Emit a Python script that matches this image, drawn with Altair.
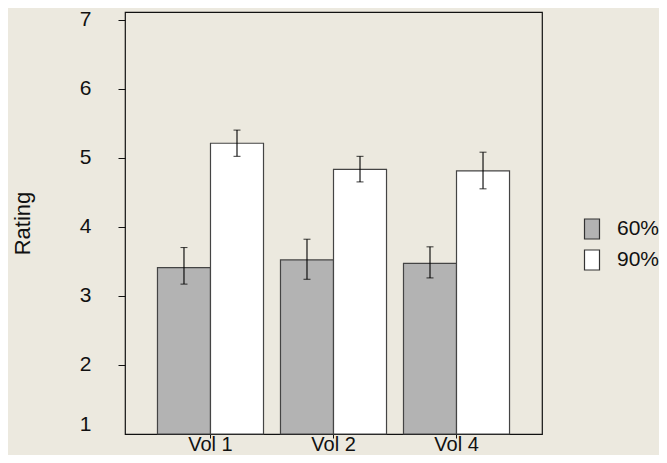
import altair as alt
import pandas as pd

vols = ["Vol 1", "Vol 2", "Vol 4"]
conds = ["60%", "90%"]
mean_60 = [3.41, 3.52, 3.47]
mean_90 = [5.21, 4.83, 4.81]
low_60 = [3.17, 3.24, 3.26]
high_60 = [3.70, 3.82, 3.71]
low_90 = [5.02, 4.65, 4.55]
high_90 = [5.40, 5.02, 5.08]
y_ticks = [1, 2, 3, 4, 5, 6, 7]

rows = []
for i, v in enumerate(vols):
    rows.append(dict(vol=v, cond=conds[0], mean=mean_60[i], lo=low_60[i], hi=high_60[i]))
    rows.append(dict(vol=v, cond=conds[1], mean=mean_90[i], lo=low_90[i], hi=high_90[i]))
df = pd.DataFrame(rows)

BG = "#ECE9DF"
FONT = "Liberation Sans"
INK = "#111111"

x = alt.X(
    "vol:N", sort=vols, title=None,
    scale=alt.Scale(paddingInner=0.138, paddingOuter=0.264),
    axis=alt.Axis(labelAngle=0, tickSize=4, labelPadding=12, labelBaseline="alphabetic",
                  domain=False, tickColor=INK, labelFontSize=20, labelColor=INK,
                  labelFont=FONT),
)
xo = alt.XOffset("cond:N", sort=conds, scale=alt.Scale(paddingInner=0, paddingOuter=0))
yscale = alt.Scale(domain=[1, 7.11], nice=False, zero=False)
y = alt.Y(
    "mean:Q", scale=yscale, title="Rating",
    axis=alt.Axis(values=y_ticks, format="d", tickSize=7, labelPadding=27, domain=False,
                  grid=False, tickColor=INK,
                  tickOpacity={"expr": "datum.value == 1 ? 0 : 1"},
                  labelFontSize=21, labelColor=INK,
                  labelFont=FONT, labelFlush=True,
                  titleX=-103, titleY=211, titleAngle=-90, titleAlign="center",
                  titleBaseline="middle", titleFontSize=22, titleFontWeight="normal",
                  titleFont=FONT, titleColor=INK),
)

color = alt.Color(
    "cond:N",
    scale=alt.Scale(domain=conds, range=["#B3B3B3", "#FFFFFF"]),
    legend=alt.Legend(title=None, orient="none", legendX=456, legendY=206, padding=0,
                      symbolType="M-0.75,-1L0.75,-1L0.75,1L-0.75,1Z", symbolSize=400,
                      symbolStrokeColor="#333333", symbolStrokeWidth=1.2,
                      labelFontSize=21, labelFont=FONT, labelColor=INK,
                      labelOffset=14, rowPadding=5),
)

bars = alt.Chart(df).mark_bar(stroke="#444444", strokeWidth=1.2).encode(
    x=x, xOffset=xo, y=y, y2=alt.datum(1), color=color
)
rules = alt.Chart(df).mark_rule(color="#000000", strokeWidth=1.1).encode(
    x=x, xOffset=xo, y=alt.Y("lo:Q", scale=yscale), y2="hi:Q"
)
cap_lo = alt.Chart(df).mark_tick(color="#000000", thickness=1.1, size=7).encode(
    x=x, xOffset=xo, y=alt.Y("lo:Q", scale=yscale)
)
cap_hi = alt.Chart(df).mark_tick(color="#000000", thickness=1.1, size=7).encode(
    x=x, xOffset=xo, y=alt.Y("hi:Q", scale=yscale)
)

chart = (
    alt.layer(bars, rules, cap_lo, cap_hi)
    .properties(width=417, height=422, background=BG,
                padding={"left": 117, "top": 4, "right": 117, "bottom": 21},
                autosize=alt.AutoSizeParams(type="none"))
    .configure_view(stroke=INK, strokeWidth=1.2, fill=BG)
)

chart.save("out.html", embed_options={"renderer": "svg", "actions": False})
